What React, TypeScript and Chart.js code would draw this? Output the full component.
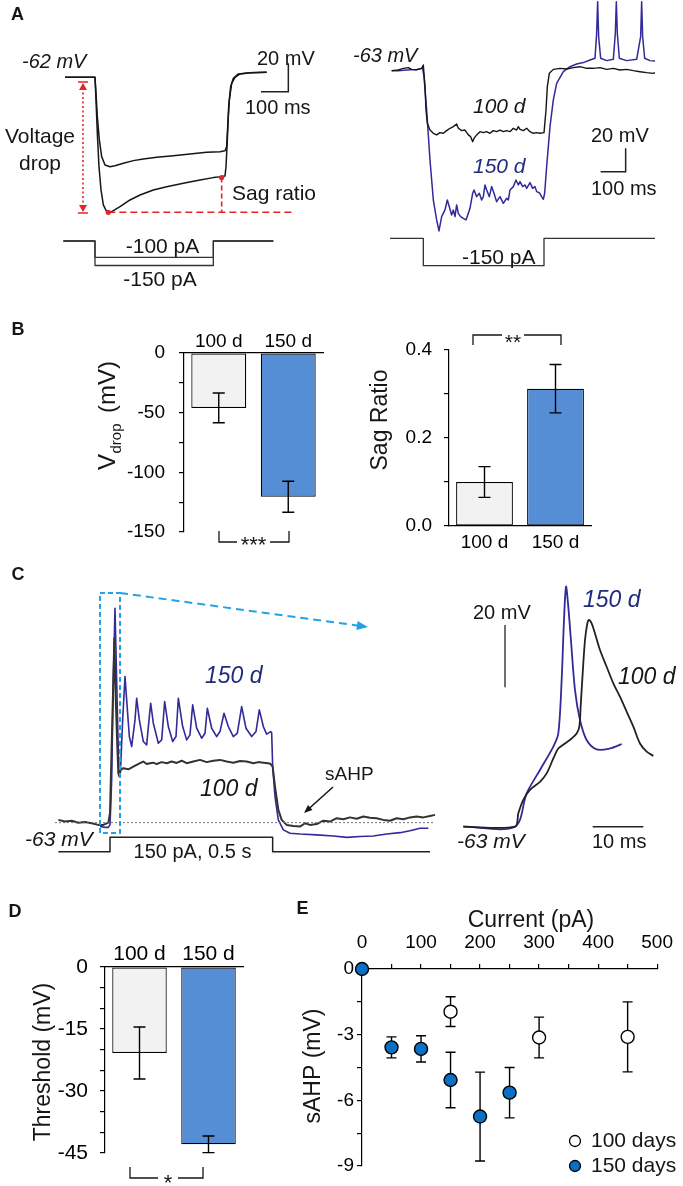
import React, { useEffect, useRef } from 'react';
import { Chart, registerables } from 'chart.js';

Chart.register(...registerables);

const FF = '"Liberation Sans", Arial, Helvetica, sans-serif';
const font = (size: number, style = '') => `${style} ${size}px ${FF}`.trim();
Chart.defaults.font.family = FF;
Chart.defaults.color = '#000';

// ================= DATA =================
// Panel A (left) – hyperpolarising steps (time ms, membrane potential mV, current pA)
const aLeftTime100 = [-109.8, 0, 3.7, 8.5, 15.9, 24.4, 36.6, 54.9, 73.2, 103.7, 140.3, 176.9, 225.7, 286.7, 347.7, 408.7, 457.5, 475.8, 481.9, 485.6, 491.7, 500.2, 512.4, 530.7, 567.3, 628.3];
const aLeftVolt100 = [-62, -62, -73.3, -89.8, -106.2, -118, -123.9, -125.1, -124.4, -122.7, -120.8, -119.6, -118.5, -117.3, -116.1, -114.9, -114.5, -113.8, -110.9, -96.8, -78, -66.2, -62, -59.6, -58.7, -58.5];
const aLeftTime150 = [-109.8, 0, 3.7, 8.5, 14.6, 22, 30.5, 42.7, 54.9, 67.1, 91.5, 128.1, 164.7, 213.5, 262.3, 323.3, 384.3, 433.1, 463.6, 475.8, 479.5, 484.3, 489.2, 496.5, 506.3, 524.6, 567.3, 628.3];
const aLeftVolt150 = [-62, -62, -78, -101.5, -125.1, -141.5, -152.1, -156.8, -157.3, -156.1, -153.3, -148.6, -145.1, -141.5, -139.2, -136.8, -134.5, -132.8, -132.1, -131.6, -125.1, -106.2, -82.7, -68.6, -62.7, -59.6, -58.7, -58.5];
const aLeftStepTime = [-115.9, 0, 0, 433.1, 433.1, 652.7];
const aLeftStep100 = [0, 0, -100, -100, 0, 0];
const aLeftStep150 = [0, 0, -150, -150, 0, 0];

// Panel A (right) – -150 pA step, 100 d vs 150 d
const aRightTime100 = [-126.7, -100, -80, -60, -46.7, -26.7, -6.7, 0, 6.7, 10.7, 16, 26.7, 40, 53.3, 66.7, 80, 93.3, 106.7, 120, 133.3, 140, 153.3, 166.7, 180, 189.3, 197.3, 202.7, 213.3, 226.7, 240, 253.3, 266.7, 280, 293.3, 306.7, 320, 333.3, 346.7, 360, 373.3, 380, 386.7, 400, 413.3, 426.7, 440, 453.3, 466.7, 482.7, 490.7, 496, 504, 520, 546.7, 573.3, 600, 626.7, 653.3, 680, 706.7, 733.3, 760, 786.7, 813.3, 840, 866.7, 893.3, 920, 926.7];
const aRightVolt100 = [-63, -62.4, -61, -60.4, -61.9, -62.4, -61, -58.1, -76.7, -96.7, -108.1, -113.9, -116.7, -118.1, -116.1, -116.7, -114.4, -112.4, -111, -108.7, -112.4, -114.4, -113.9, -118.1, -119.6, -123.9, -121, -118.1, -115.3, -116.1, -115.3, -116.7, -114.4, -115.3, -113.9, -115.3, -114.4, -115.3, -112.4, -113.9, -111, -113.3, -114.4, -112.4, -115.3, -116.7, -116.1, -116.7, -116.1, -96.7, -76.7, -65.3, -61.9, -61, -61.6, -60.4, -59.6, -61, -61, -60.4, -61.9, -61, -62.4, -61.9, -63, -63.9, -64.7, -65.3, -64.7];
const aRightTime150 = [-126.7, -100, -66.7, -26.7, -2.7, 2.7, 13.3, 26.7, 40, 53.3, 62.7, 73.3, 86.7, 96, 104, 113.3, 120, 126.7, 133.3, 140, 149.3, 160, 170.7, 180, 186.7, 197.3, 202.7, 213.3, 224, 233.3, 240, 246.7, 253.3, 264, 273.3, 282.7, 293.3, 306.7, 320, 333.3, 340, 346.7, 360, 370.7, 380, 386.7, 397.3, 406.7, 413.3, 426.7, 437.3, 446.7, 453.3, 464, 473.3, 480, 485.3, 493.3, 506.7, 520, 533.3, 560, 586.7, 613.3, 640, 666.7, 686.7, 693.3, 697.3, 701.3, 709.3, 733.3, 760, 768, 772, 776, 784, 813.3, 853.3, 869.3, 873.3, 877.3, 885.3, 906.7, 926.7];
const aRightVolt150 = [-63, -63, -62.4, -61.9, -61, -68.1, -96.7, -139.6, -173.9, -191, -200.4, -188.1, -182.4, -173.9, -179.6, -186.7, -182.4, -188.1, -178.1, -185.3, -188.1, -189.6, -191, -185.3, -181, -168.1, -165.3, -171, -168.1, -173.9, -171, -161, -165.3, -171, -162.4, -168.1, -175.3, -171, -176.7, -172.4, -173.9, -165.3, -162.4, -156.7, -161, -158.1, -162.4, -161, -163.9, -159, -163.9, -162.4, -166.7, -167.6, -171, -173.3, -168.1, -145.3, -111, -88.1, -73.9, -63.9, -59.6, -57.3, -56.1, -53.9, -52.4, -31, -3.9, -33.9, -52.4, -54.4, -53.3, -31, -3.9, -31, -52.4, -54.4, -53.3, -33.9, -3.9, -33.9, -52.4, -54.4, -54.7];
const aRightStepTime = [-133.3, 0, 0, 482.7, 482.7, 926.7];
const aRightStepAmp = [0, 0, -150, -150, 0, 0];

// Panel B – voltage drop and sag ratio
const groups = ['100 d', '150 d'];
const vdropMean = [-46, -120.5];
const vdropSem = [12.5, 13];
const sagMean = [0.1, 0.312];
const sagSem = [0.035, 0.055];

// Panel C (left) – 150 pA, 0.5 s depolarising step
const cBlackTime = [-155, -135, -115, -95, -75, -55, -35, -20, -5, 0, 5, 10, 13, 17, 22, 25, 28, 32, 40, 55, 70, 80, 90, 100, 110, 120, 130, 140, 155, 170, 185, 200, 215, 230, 250, 270, 290, 310, 330, 350, 370, 390, 410, 430, 445, 460, 475, 482, 488, 495, 505, 515, 530, 550, 570, 585, 600, 620, 640, 660, 680, 700, 720, 740, 760, 780, 800, 820, 840, 860, 880, 900, 920, 940, 960, 975];
const cBlackVolt = [-62.0, -62.6, -62.3, -63.0, -62.8, -63.2, -63.8, -63.8, -63.0, -59.6, -35.6, -11.6, 3.4, -17.6, -35.6, -45.2, -46.4, -44.0, -43.4, -43.8, -42.8, -42.2, -41.6, -41.0, -41.9, -41.6, -41.4, -41.9, -41.2, -41.6, -41.0, -41.5, -40.7, -41.6, -41.0, -40.4, -41.2, -40.7, -40.4, -41.0, -41.4, -40.8, -41.0, -41.6, -41.2, -41.4, -41.6, -41.9, -42.8, -50.0, -58.4, -62.0, -63.8, -64.2, -64.4, -63.2, -63.8, -63.5, -62.3, -62.6, -61.4, -61.8, -61.1, -61.6, -60.8, -61.2, -61.4, -62.0, -62.3, -61.4, -61.8, -61.1, -60.8, -61.1, -60.6, -60.2];
const cBlueTime = [-30, -15, -5, 0, 5, 10, 15, 20, 25, 28, 32, 38, 45, 50, 58, 65, 75, 80, 88, 100, 110, 118, 122, 130, 145, 155, 164, 175, 188, 198, 205, 218, 230, 240, 248, 260, 275, 285, 292, 305, 320, 330, 342, 355, 370, 382, 395, 408, 425, 438, 448, 460, 470, 482, 485, 488, 495, 505, 520, 540, 570, 620, 670, 710, 750, 790, 830, 870, 900, 930, 955];
const cBlueVolt = [-64.4, -64.7, -64.7, -63.8, -47.6, -11.6, 14.2, -11.6, -38.0, -45.8, -42.8, -26.0, -10.4, -18.8, -32.0, -35.6, -26.0, -18.2, -26.0, -33.8, -35.0, -24.8, -20.0, -27.2, -34.4, -33.2, -19.4, -28.4, -33.8, -32.0, -18.2, -28.4, -33.2, -31.4, -20.6, -29.0, -32.6, -30.8, -21.8, -29.0, -32.0, -30.2, -23.6, -28.4, -32.0, -30.8, -21.2, -29.0, -32.0, -30.2, -22.4, -28.4, -31.1, -30.2, -30.6, -42.8, -53.6, -62.0, -65.6, -66.8, -67.1, -67.4, -67.8, -68.3, -68.0, -67.8, -67.1, -66.6, -65.9, -65.0, -65.0];
const cStepTime = [-155, 0, 0, 488, 488, 960];
const cStepAmp = [0, 0, 150, 150, 0, 0];

// Panel C (right) – first action potential, expanded
const cApBlueTime = [-10.2, 0, 2.3, 4.93, 7.57, 8.55, 9.21, 9.67, 10.07, 10.46, 10.99, 11.84, 12.83, 14.14, 16.12, 18.75, 21.05];
const cApBlueVolt = [-63, -63, -52.3, -44.8, -37.3, -33.1, -15.9, 3.3, 14.0, 8.7, -2.0, -19.1, -28.8, -35.2, -38.2, -37.9, -36.5];
const cApBlackTime = [-10.2, 0, 0.66, 1.64, 2.96, 4.93, 6.25, 7.57, 8.55, 9.87, 11.18, 12.17, 12.7, 12.96, 13.36, 13.82, 14.28, 14.61, 15.13, 15.79, 16.78, 18.09, 19.41, 20.72, 22.04, 23.36, 24.67, 25.99, 27.3];
const cApBlackVolt = [-63, -63, -58.7, -54.4, -51.2, -48.6, -45.9, -41.1, -37.9, -36.3, -34.7, -33.1, -30.9, -24.5, -13.8, -3.1, 2.2, 3.3, 2.2, -1.0, -6.3, -11.7, -17.0, -21.3, -26.1, -30.9, -36.3, -38.9, -40.3];

// Panel D – threshold
const thresholdMean = [-20.8, -42.9];
const thresholdSem = [6.3, 2.0];

// Panel E – sAHP vs injected current
const eCurrent100 = [150, 300, 450];
const eSahp100 = [-1.95, -3.13, -3.1];
const eSem100 = [0.68, 0.93, 1.6];
const eCurrent150 = [0, 50, 100, 150, 200, 250];
const eSahp150 = [0, -3.58, -3.65, -5.07, -6.74, -5.65];
const eSem150 = [0, 0.48, 0.6, 1.27, 2.03, 1.15];

// ================= STYLE =================
const BLACK = '#161616';
const TRACE_BLUE = '#312a98';
const LABEL_BLUE = '#1f2c7c';
const RED = '#e3242b';
const DASH_BLUE = '#22a3e6';
const BAR_FILLS = ['#f2f2f2', '#558ed5'];
const DOT_BLUE = '#0b6fc4';

// ================= PLUGINS =================
function makeAnnot(items: any[], origin: [number, number]) {
  return {
    id: 'annot',
    afterDraw(chart: any) {
      const ctx = chart.ctx;
      const P = (it: any, p: number[]) =>
        it.d
          ? [chart.scales.x.getPixelForValue(p[0]), chart.scales.y.getPixelForValue(p[1])]
          : [p[0] - origin[0], p[1] - origin[1]];
      for (const it of items) {
        ctx.save();
        const col = it.color || BLACK;
        ctx.strokeStyle = col;
        ctx.fillStyle = col;
        ctx.lineWidth = it.w || 1.3;
        ctx.setLineDash(it.dash || []);
        if (it.t === 'text') {
          const [x, y] = P(it, [it.x, it.y]);
          ctx.font = it.font;
          ctx.textAlign = it.align || 'left';
          ctx.textBaseline = 'alphabetic';
          if (it.rot) {
            ctx.translate(x, y);
            ctx.rotate(-Math.PI / 2);
            ctx.fillText(it.s, 0, 0);
          } else ctx.fillText(it.s, x, y);
        } else if (it.t === 'vdrop') {
          const [x, y] = P(it, [it.x, it.y]);
          ctx.translate(x, y);
          ctx.rotate(-Math.PI / 2);
          ctx.textAlign = 'left';
          ctx.textBaseline = 'alphabetic';
          ctx.font = font(24);
          ctx.fillText('V', 0, 0);
          const w1 = ctx.measureText('V').width;
          ctx.font = font(15);
          ctx.fillText('drop', w1 + 0.5, 6);
          const w2 = ctx.measureText('drop').width;
          ctx.font = font(24);
          ctx.fillText('(mV)', w1 + w2 + 11, 0);
        } else if (it.t === 'line') {
          ctx.beginPath();
          it.pts.forEach((p: number[], i: number) => {
            const [x, y] = P(it, p);
            if (i === 0) ctx.moveTo(x, y);
            else ctx.lineTo(x, y);
          });
          ctx.stroke();
        } else if (it.t === 'dot') {
          const [x, y] = P(it, it.p);
          ctx.beginPath();
          ctx.arc(x, y, it.r, 0, Math.PI * 2);
          ctx.fillStyle = it.fill || col;
          ctx.fill();
          if (it.stroke) {
            ctx.strokeStyle = it.stroke;
            ctx.lineWidth = 1.3;
            ctx.stroke();
          }
        } else if (it.t === 'arrow') {
          const [x1, y1] = P(it, it.from);
          const [x2, y2] = P(it, it.to);
          const a = Math.atan2(y2 - y1, x2 - x1);
          const h = it.head || 8;
          ctx.beginPath();
          ctx.moveTo(x1, y1);
          ctx.lineTo(x2 - Math.cos(a) * h * 0.8, y2 - Math.sin(a) * h * 0.8);
          ctx.stroke();
          ctx.setLineDash([]);
          ctx.beginPath();
          ctx.moveTo(x2, y2);
          ctx.lineTo(x2 - h * Math.cos(a - 0.38), y2 - h * Math.sin(a - 0.38));
          ctx.lineTo(x2 - h * Math.cos(a + 0.38), y2 - h * Math.sin(a + 0.38));
          ctx.closePath();
          ctx.fill();
        } else if (it.t === 'iarrow') {
          const [x, y1] = P(it, [it.x, it.y1]);
          const [, y2] = P(it, [it.x, it.y2]);
          const h = 6;
          ctx.beginPath();
          ctx.moveTo(x, y1 + h);
          ctx.lineTo(x, y2 - h);
          ctx.stroke();
          ctx.setLineDash([]);
          ctx.beginPath();
          ctx.moveTo(x - 5, y1);
          ctx.lineTo(x + 5, y1);
          ctx.moveTo(x - 5, y2);
          ctx.lineTo(x + 5, y2);
          ctx.stroke();
          ctx.beginPath();
          ctx.moveTo(x, y1 + 1);
          ctx.lineTo(x - 4, y1 + h + 2);
          ctx.lineTo(x + 4, y1 + h + 2);
          ctx.closePath();
          ctx.moveTo(x, y2 - 1);
          ctx.lineTo(x - 4, y2 - h - 2);
          ctx.lineTo(x + 4, y2 - h - 2);
          ctx.closePath();
          ctx.fill();
        }
        ctx.restore();
      }
    },
  };
}

function errorBars(errs: number[][], cap: number, before: boolean) {
  const draw = (chart: any) => {
    const ctx = chart.ctx;
    const ys = chart.scales.y;
    ctx.save();
    ctx.strokeStyle = '#000';
    ctx.lineWidth = 1.4;
    chart.data.datasets.forEach((ds: any, di: number) => {
      const meta = chart.getDatasetMeta(di);
      meta.data.forEach((el: any, i: number) => {
        const e = errs[di][i];
        if (!e) return;
        const raw = ds.data[i];
        const v = typeof raw === 'number' ? raw : raw.y;
        const x = el.x;
        const y1 = ys.getPixelForValue(v + e);
        const y2 = ys.getPixelForValue(v - e);
        ctx.beginPath();
        ctx.moveTo(x, y1);
        ctx.lineTo(x, y2);
        ctx.moveTo(x - cap / 2, y1);
        ctx.lineTo(x + cap / 2, y1);
        ctx.moveTo(x - cap / 2, y2);
        ctx.lineTo(x + cap / 2, y2);
        ctx.stroke();
      });
    });
    ctx.restore();
  };
  return before ? { id: 'errbars', beforeDatasetsDraw: draw } : { id: 'errbars', afterDatasetsDraw: draw };
}

// ================= CONFIG BUILDERS =================
const trace = (xs: number[], ys: number[], color: string, width: number, axis = 'y', tension = 0) => ({
  data: xs.map((x, i) => ({ x, y: ys[i] })),
  borderColor: color,
  borderWidth: width,
  pointRadius: 0,
  tension,
  fill: false,
  yAxisID: axis,
  borderJoinStyle: 'round',
});

const traceConfig = (datasets: any[], xr: number[], yr: number[], ir: number[], plugins: any[]) => ({
  type: 'line',
  data: { datasets },
  options: {
    responsive: false,
    animation: false,
    events: [],
    layout: { padding: 0 },
    plugins: { legend: { display: false }, tooltip: { enabled: false } },
    scales: {
      x: { type: 'linear', display: false, min: xr[0], max: xr[1] },
      y: { type: 'linear', display: false, min: yr[0], max: yr[1] },
      yI: { type: 'linear', display: false, min: ir[0], max: ir[1] },
    },
  },
  plugins,
});

const barConfig = (o: any) => ({
  type: 'bar',
  data: {
    labels: groups,
    datasets: [
      {
        data: o.values,
        backgroundColor: BAR_FILLS,
        borderColor: '#000',
        borderWidth: 1.2,
        borderSkipped: false,
        barPercentage: o.barPct,
        categoryPercentage: 1,
      },
    ],
  },
  options: {
    responsive: false,
    animation: false,
    events: [],
    layout: { padding: o.padding },
    plugins: { legend: { display: false }, tooltip: { enabled: false } },
    scales: {
      x: {
        position: o.xPos,
        grid: { display: false, drawTicks: false },
        border: { display: true, color: '#000', width: 1.2 },
        ticks: { font: { family: FF, size: o.size }, color: '#000', padding: o.xPad, autoSkip: false, maxRotation: 0 },
        afterFit: (s: any) => {
          s.height = o.xHeight;
        },
      },
      y: {
        min: o.min,
        max: o.max,
        grid: { drawOnChartArea: false, drawTicks: true, tickLength: 5, color: '#000', lineWidth: 1.2 },
        border: { display: true, color: '#000', width: 1.2 },
        ticks: { stepSize: o.step, font: { family: FF, size: o.size }, color: '#000', padding: o.yPad, autoSkip: false, callback: o.fmt },
        afterFit: (s: any) => {
          s.width = o.yWidth;
        },
      },
    },
  },
  plugins: [errorBars([o.errors], 12, false), makeAnnot(o.items, o.origin)],
});

// ================= PANELS =================
const T = (x: number, y: number, s: string, f: string, extra: any = {}) => ({ t: 'text', x, y, s, font: f, ...extra });

function aLeft() {
  const items = [
    T(11, 20, 'A', font(18, 'bold')),
    T(22, 67.5, '-62 mV', font(20, 'italic')),
    T(257, 65, '20 mV', font(20)),
    T(245, 114, '100 ms', font(20)),
    T(40, 143, 'Voltage', font(21), { align: 'center' }),
    T(40, 170, 'drop', font(21), { align: 'center' }),
    T(232, 200, 'Sag ratio', font(21)),
    T(162.5, 253, '-100 pA', font(21), { align: 'center' }),
    T(160, 286, '-150 pA', font(21), { align: 'center' }),
    { t: 'line', d: true, pts: [[607.6, -72.1], [707.6, -72.1], [707.6, -52.1]], w: 1.5, color: '#222' },
    { t: 'iarrow', x: 83, y1: 82, y2: 213, color: RED, dash: [2, 2.5], w: 1.6 },
    { t: 'line', d: true, pts: [[48.8, -157.3], [719.8, -157.3]], color: RED, dash: [7, 4], w: 1.6 },
    { t: 'line', d: true, pts: [[463.6, -132.8], [463.6, -157.3]], color: RED, dash: [5, 3], w: 1.6 },
    { t: 'dot', d: true, p: [463.6, -132.8], r: 2.6, color: RED },
    { t: 'dot', d: true, p: [48.8, -157.3], r: 2.6, color: RED },
  ];
  return traceConfig(
    [
      trace(aLeftTime100, aLeftVolt100, BLACK, 1.5),
      trace(aLeftTime150, aLeftVolt150, BLACK, 1.5),
      trace(aLeftStepTime, aLeftStep100, '#333', 1.3, 'yI'),
      trace(aLeftStepTime, aLeftStep150, '#333', 1.3, 'yI'),
    ],
    [-347.7, 896.7],
    [-219.2, -7.41],
    [-361.2, 1475.5],
    [makeAnnot(items, [0, 0])]
  );
}

function aRight() {
  const items = [
    T(353, 61.5, '-63 mV', font(20, 'italic')),
    T(473, 113, '100 d', font(21, 'italic')),
    T(473, 173, '150 d', font(21, 'italic'), { color: LABEL_BLUE }),
    T(591, 141.5, '20 mV', font(20)),
    T(591, 195, '100 ms', font(20)),
    T(462, 264, '-150 pA', font(21)),
    { t: 'line', d: true, pts: [[709.3, -149.6], [809.3, -149.6], [809.3, -129.6]], w: 1.5, color: '#222' },
  ];
  return traceConfig(
    [
      trace(aRightTime100, aRightVolt100, BLACK, 1.4),
      trace(aRightTime150, aRightVolt150, TRACE_BLUE, 1.5),
      trace(aRightStepTime, aRightStepAmp, '#333', 1.3, 'yI'),
    ],
    [-333.3, 1038.7],
    [-259.6, -2.43],
    [-338.4, 1307.9],
    [makeAnnot(items, [340, 0])]
  );
}

function bLeft() {
  return barConfig({
    values: vdropMean,
    errors: vdropSem,
    barPct: 0.79,
    padding: { left: 0, top: 0, right: 17, bottom: 48 },
    xPos: 'top',
    xHeight: 43,
    xPad: 0,
    yWidth: 184,
    yPad: 14,
    size: 19,
    min: -150,
    max: 0,
    step: 25,
    fmt: (v: number) => (v % 50 === 0 ? String(v) : ''),
    origin: [0, 310],
    items: [
      T(11.5, 335, 'B', font(18, 'bold')),
      T(11.5, 580, 'C', font(18, 'bold')),
      { t: 'vdrop', x: 115, y: 470 },
      { t: 'line', pts: [[219, 531], [219, 542], [237, 542]], w: 1.3 },
      { t: 'line', pts: [[270, 542], [289, 542], [289, 531]], w: 1.3 },
      T(253.5, 552, '***', font(22), { align: 'center' }),
    ],
  });
}

function bRight() {
  return barConfig({
    values: sagMean,
    errors: sagSem,
    barPct: 0.8,
    padding: { left: 0, top: 40, right: 92, bottom: 24 },
    xPos: 'bottom',
    xHeight: 30,
    xPad: 5,
    yWidth: 109,
    yPad: 12,
    size: 19,
    min: 0,
    max: 0.4,
    step: 0.1,
    fmt: (v: number) => (Math.round(v * 10) % 2 === 0 ? v.toFixed(1) : ''),
    origin: [340, 310],
    items: [
      T(387, 420, 'Sag Ratio', font(23), { align: 'center', rot: true }),
      { t: 'line', pts: [[473, 345], [473, 335], [502, 335]], w: 1.3 },
      { t: 'line', pts: [[524, 335], [561, 335], [561, 345]], w: 1.3 },
      T(513, 349, '**', font(21), { align: 'center' }),
    ],
  });
}

function cLeft() {
  const items = [
    { t: 'line', d: true, pts: [[-165, -63], [975, -63]], color: '#666', dash: [2, 2], w: 0.9 },
    T(205, 683, '150 d', font(23, 'italic'), { color: LABEL_BLUE }),
    T(200, 796, '100 d', font(23, 'italic')),
    T(325, 780, 'sAHP', font(19)),
    T(25, 846, '-63 mV', font(21, 'italic')),
    T(192.5, 858, '150 pA, 0.5 s', font(20), { align: 'center' }),
    { t: 'arrow', from: [333, 787], to: [304, 813], head: 9, w: 1.5 },
    { t: 'line', pts: [[100, 593], [120, 593], [120, 833], [100, 833], [100, 593]], color: DASH_BLUE, dash: [5, 3], w: 2 },
    { t: 'arrow', from: [120, 593], to: [368, 627], head: 12, color: DASH_BLUE, dash: [8, 5], w: 2 },
  ];
  return traceConfig(
    [
      trace(cBlackTime, cBlackVolt, '#333', 2),
      trace(cBlueTime, cBlueVolt, TRACE_BLUE, 1.6),
      trace(cStepTime, cStepAmp, '#222', 1.5, 'yI'),
    ],
    [-330, 990],
    [-80.04, 24.36],
    [-191.8, 2842.7],
    [makeAnnot(items, [0, 580])]
  );
}

function cRight() {
  const items = [
    T(473, 619, '20 mV', font(20)),
    T(583, 607, '150 d', font(23, 'italic'), { color: LABEL_BLUE }),
    T(618, 684, '100 d', font(23, 'italic')),
    T(457, 848, '-63 mV', font(21, 'italic')),
    T(592, 848, '10 ms', font(20)),
    { t: 'line', d: true, pts: [[-1.97, -18.3], [-1.97, 1.7]], w: 1.3, color: '#222' },
    { t: 'line', d: true, pts: [[15.33, -63], [25.33, -63]], w: 1.5, color: '#222' },
  ];
  return traceConfig(
    [
      trace(cApBlackTime, cApBlackVolt, '#222', 1.8, 'y', 0.3),
      trace(cApBlueTime, cApBlueVolt, TRACE_BLUE, 1.8, 'y', 0.3),
    ],
    [-14.8, 33.16],
    [-76.9, 16.14],
    [0, 1],
    [makeAnnot(items, [440, 580])]
  );
}

function dPanel() {
  return barConfig({
    values: thresholdMean,
    errors: thresholdSem,
    barPct: 0.79,
    padding: { left: 0, top: 0, right: 47, bottom: 33 },
    xPos: 'top',
    xHeight: 87,
    xPad: 0,
    yWidth: 105,
    yPad: 12,
    size: 21,
    min: -45,
    max: 0,
    step: 5,
    fmt: (v: number) => (v % 15 === 0 ? String(v === 0 ? 0 : v) : ''),
    origin: [0, 880],
    items: [
      T(8.5, 916.5, 'D', font(18, 'bold')),
      T(50, 1062, 'Threshold (mV)', font(23), { align: 'center', rot: true }),
      { t: 'line', pts: [[130, 1167], [130, 1178], [158, 1178]], w: 1.3 },
      { t: 'line', pts: [[178, 1178], [203, 1178], [203, 1167]], w: 1.3 },
      T(168, 1190, '*', font(22), { align: 'center' }),
    ],
  });
}

function ePanel() {
  const items = [
    T(296.5, 913.5, 'E', font(18, 'bold')),
    T(531, 927, 'Current (pA)', font(23), { align: 'center' }),
    T(320, 1066, 'sAHP (mV)', font(23), { align: 'center', rot: true }),
    { t: 'dot', p: [575, 1141], r: 5.5, fill: '#fff', stroke: '#000' },
    T(591, 1147, '100 days', font(21)),
    { t: 'dot', p: [575, 1166], r: 5.5, fill: DOT_BLUE, stroke: '#000' },
    T(591, 1172, '150 days', font(21)),
  ];
  return {
    type: 'scatter',
    data: {
      datasets: [
        {
          label: '100 days',
          data: eCurrent100.map((x, i) => ({ x, y: eSahp100[i] })),
          backgroundColor: '#fff',
          borderColor: '#000',
          borderWidth: 1.4,
          pointRadius: 6.5,
          clip: false,
        },
        {
          label: '150 days',
          data: eCurrent150.map((x, i) => ({ x, y: eSahp150[i] })),
          backgroundColor: DOT_BLUE,
          borderColor: '#000',
          borderWidth: 1.4,
          pointRadius: 6.5,
          clip: false,
        },
      ],
    },
    options: {
      responsive: false,
      animation: false,
      events: [],
      layout: { padding: { left: 0, top: 0, right: 20, bottom: 20 } },
      plugins: { legend: { display: false }, tooltip: { enabled: false } },
      scales: {
        x: {
          type: 'linear',
          position: 'top',
          min: 0,
          max: 500,
          grid: { drawOnChartArea: false, drawTicks: true, tickLength: 5, color: '#000', lineWidth: 1.2 },
          border: { display: true, color: '#000', width: 1.2 },
          ticks: { stepSize: 50, autoSkip: false, maxRotation: 0, font: { family: FF, size: 19 }, color: '#000', padding: 10, callback: (v: number) => (v % 100 === 0 ? String(v) : '') },
          afterFit: (s: any) => {
            s.height = 89;
          },
        },
        y: {
          type: 'linear',
          min: -9,
          max: 0,
          grid: { drawOnChartArea: false, drawTicks: true, tickLength: 5, color: '#000', lineWidth: 1.2 },
          border: { display: true, color: '#000', width: 1.2 },
          ticks: { stepSize: 1.5, autoSkip: false, font: { family: FF, size: 19 }, color: '#000', padding: 3, callback: (v: number) => (Math.abs(v % 3) < 1e-9 ? String(v === 0 ? 0 : v) : '') },
          afterFit: (s: any) => {
            s.width = 72;
          },
        },
      },
    },
    plugins: [errorBars([eSem100, eSem150], 10, true), makeAnnot(items, [290, 880])],
  };
}

// ================= COMPONENTS =================
function ChartPanel({ left, top, width, height, build }: any) {
  const ref = useRef<HTMLCanvasElement>(null);
  useEffect(() => {
    const chart = new Chart(ref.current as HTMLCanvasElement, build());
    return () => chart.destroy();
  }, []);
  return <canvas ref={ref} width={width} height={height} style={{ position: 'absolute', left, top, width, height }} />;
}

export default function App() {
  return (
    <div style={{ position: 'absolute', left: 0, top: 0, width: 683, height: 1186, background: '#fff', overflow: 'hidden' }}>
      <ChartPanel left={0} top={0} width={340} height={300} build={aLeft} />
      <ChartPanel left={340} top={0} width={343} height={300} build={aRight} />
      <ChartPanel left={0} top={310} width={340} height={270} build={bLeft} />
      <ChartPanel left={340} top={310} width={343} height={270} build={bRight} />
      <ChartPanel left={0} top={580} width={440} height={290} build={cLeft} />
      <ChartPanel left={440} top={580} width={243} height={290} build={cRight} />
      <ChartPanel left={0} top={880} width={290} height={306} build={dPanel} />
      <ChartPanel left={290} top={880} width={393} height={306} build={ePanel} />
    </div>
  );
}
